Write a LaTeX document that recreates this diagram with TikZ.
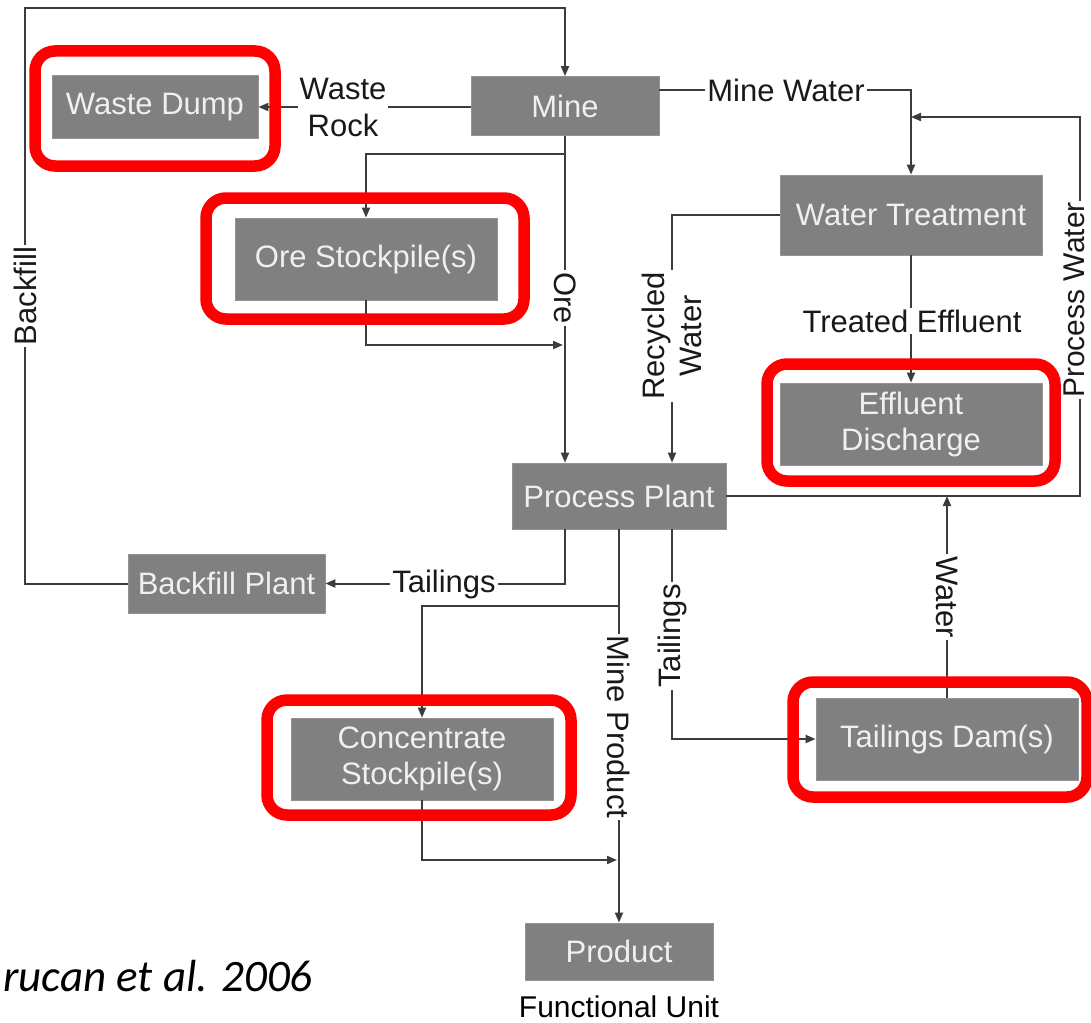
\documentclass[tikz,border=0pt]{standalone}
\usepackage{fontspec}
\setmainfont{Liberation Sans}
\newfontfamily\citefont{Carlito}
\usetikzlibrary{arrows.meta}
\definecolor{boxgray}{RGB}{128,128,128}
\definecolor{linegray}{RGB}{60,60,60}
\begin{document}
\begin{tikzpicture}[x=1pt,y=-1pt,
  box/.style={fill=boxgray, draw=boxgray!85!white, line width=0.8pt, text=white!94!black,
    font=\fontsize{31}{36}\selectfont, align=center, inner sep=0pt},
  conn/.style={draw=linegray, line width=2pt, -{Triangle[length=10pt,width=8pt]}},
  lbl/.style={fill=white, inner sep=2pt, font=\fontsize{31}{37}\selectfont, text=black!90, align=center},
  hl/.style={draw=red, line width=11.5pt, rounded corners=20pt}]
\useasboundingbox[fill=white] (0,0) rectangle (1091,1022);

% boxes
\node[box,minimum width=206pt,minimum height=63pt] (wd) at (155,107) {Waste Dump};
\node[box,minimum width=188pt,minimum height=59pt] (mine) at (565,106) {Mine};
\node[box,minimum width=262pt,minimum height=82pt] (os) at (366,259) {Ore Stockpile(s)};
\node[box,minimum width=262pt,minimum height=80pt] (wt) at (911,215) {Water Treatment};
\node[box,minimum width=262pt,minimum height=82pt] (ed) at (911,424) {Effluent\\Discharge};
\node[box,minimum width=214pt,minimum height=66pt] (pp) at (619,496) {Process Plant};
\node[box,minimum width=197pt,minimum height=59pt] (bp) at (226.5,583.5) {Backfill Plant};
\node[box,minimum width=262pt,minimum height=82pt] (cs) at (422,759) {Concentrate\\Stockpile(s)};
\node[box,minimum width=262pt,minimum height=82pt] (td) at (947,739) {Tailings Dam(s)};
\node[box,minimum width=188pt,minimum height=57pt] (prod) at (619,951.5) {Product};

% helper coordinates
\coordinate (c1) at (25,8);
\coordinate (mw) at (912,90);
\coordinate (pwt) at (1080,117);
\coordinate (osj) at (367,154);
\coordinate (orel) at (563,345);
\coordinate (rw) at (672,215);
\coordinate (brj) at (619,606);
\coordinate (csj) at (617,860);

% connectors
\draw[conn] (bp.west) -| (c1) -| (mine.north);
\draw[conn] (mine.west |- wd.east) -- (wd.east);
\draw[conn] (mine.east |- mw) -| (wt.north);
\draw[conn] (pp.east) -| (pwt) -- (wt.north |- pwt);
\draw[conn] (mine.south) -- (pp.north -| mine.south);
\draw[conn] (mine.south |- osj) -| (os.north);
\draw[conn] (os.south) |- (orel);
\draw[conn] (wt.west) -| (pp.north -| rw);
\draw[conn] (wt.south) -- (ed.north);
\draw[conn] (td.north) -- (td.north |- pp.east);
\draw[conn] (pp.south -| rw) |- (td.west);
\draw[conn] (pp.south) -- (prod.north);
\draw[conn] (brj) -| (cs.north);
\draw[conn] (pp.south -| mine.south) |- (bp.east);
\draw[conn] (cs.south) |- (csj);

% labels
\node[lbl,rotate=90] (lbf) at (25,296) {Backfill};
\node[lbl] (lwr) at (343,107) {Waste\\Rock};
\node[lbl] (lmw) at (786,90) {Mine Water};
\node[lbl,rotate=90,inner sep=1pt,font=\fontsize{30}{36}\selectfont] (lpw) at (1074,300) {Process Water};
\node[lbl,rotate=-90] (lore) at (565,298) {Ore};
\node[lbl,rotate=90] (lrw) at (672,336) {Recycled\\Water};
\node[lbl] (lte) at (912,321) {Treated Effluent};
\node[lbl,rotate=-90] (lw) at (947,597) {Water};
\node[lbl,rotate=90] (ltr) at (672,636) {Tailings};
\node[lbl,rotate=-90] (lmp) at (619,727) {Mine Product};
\node[lbl] (ltl) at (444,584) {Tailings};
\node[anchor=base, font=\fontsize{30}{34}\selectfont, inner sep=0pt] (fu) at (619,1017) {Functional Unit};
\node[anchor=base east, font=\citefont\itshape\fontsize{45}{50}\selectfont, inner sep=0pt] (cite) at (313,991) {rucan et al. 2006};

% red highlights
\draw[hl] (35,51) rectangle (275,166);
\draw[hl] (206,198) rectangle (524,319);
\draw[hl] (767,364) rectangle (1055,481);
\draw[hl] (267,700) rectangle (571,815);
\draw[hl] (793,682) rectangle (1087,797);
\end{tikzpicture}
\end{document}
